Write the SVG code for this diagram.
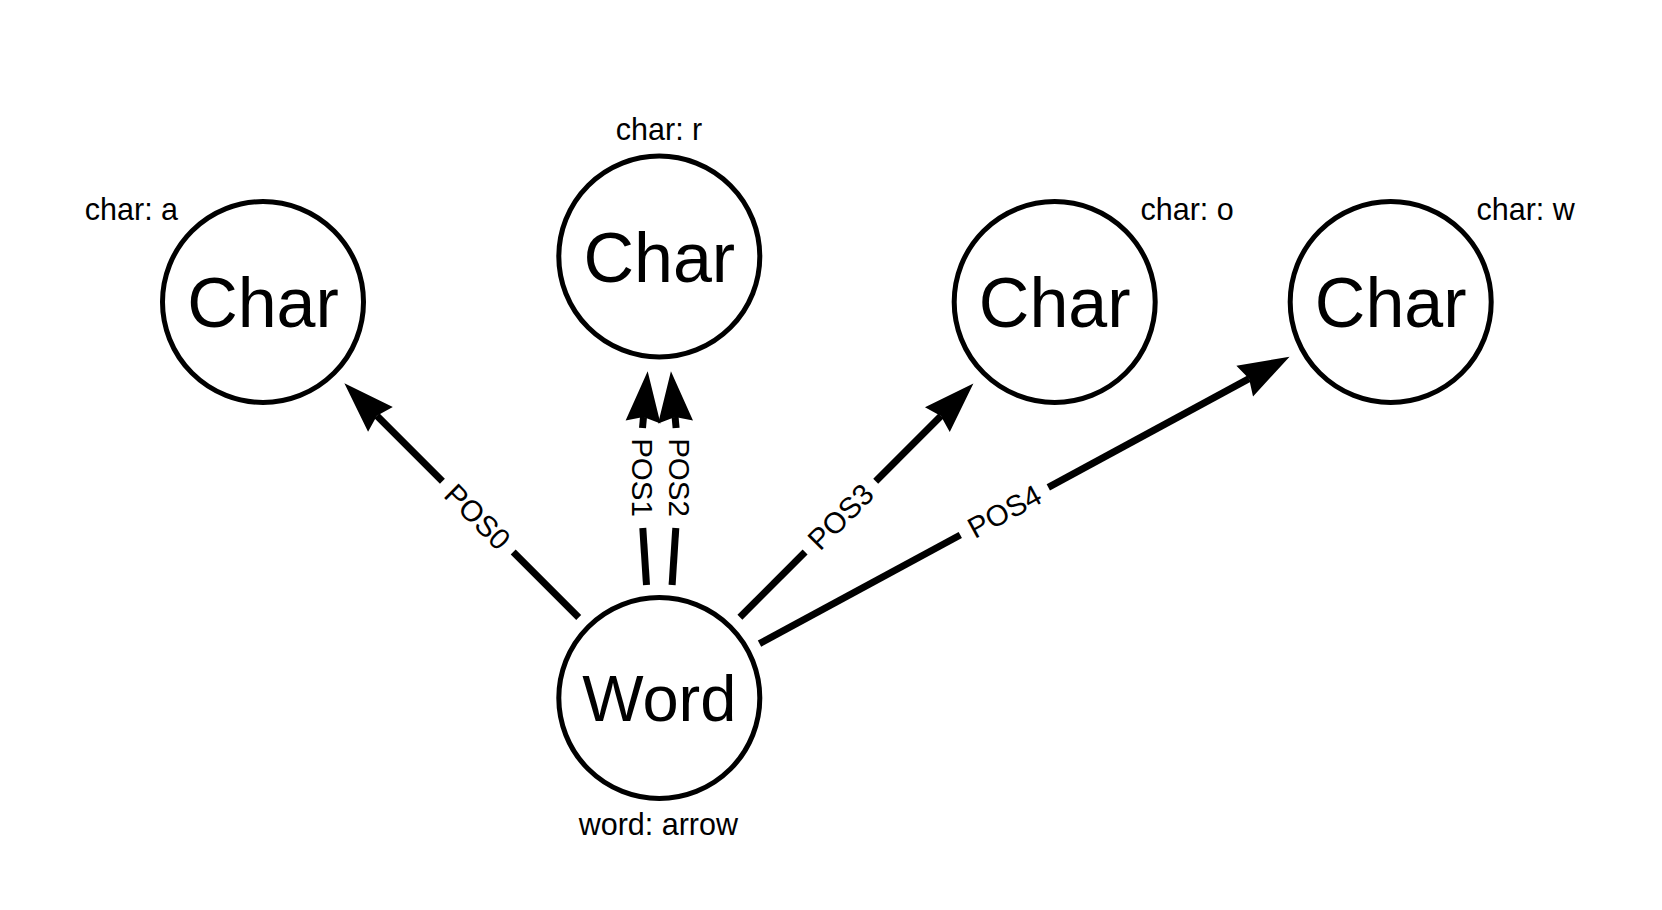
<svg xmlns="http://www.w3.org/2000/svg" width="1662" height="910" viewBox="0 0 1662 910">
  <style>
    .node { fill: #ffffff; stroke: #000000; stroke-width: 5; }
    .cap { font-family: "Liberation Sans", Arial, Helvetica, sans-serif; font-size: 70px; fill: #000000; text-anchor: middle; }
    .prop { font-family: "Liberation Sans", Arial, Helvetica, sans-serif; font-size: 30.5px; fill: #000000; }
    .edge { fill: none; stroke: #000000; stroke-width: 7; stroke-linecap: butt; }
    .elabel { font-family: "Liberation Sans", Arial, Helvetica, sans-serif; font-size: 29.5px; fill: #000000; text-anchor: middle; }
  </style>
  <defs>
    <marker id="arrow" markerUnits="userSpaceOnUse" orient="auto" viewBox="-10 -20 60 40" markerWidth="60" markerHeight="40" refX="0" refY="0" overflow="visible">
      <path d="M 46,0 L -5,-17.5 L 0,0 L -5,17.5 Z" fill="#000000"/>
    </marker>
  </defs>
  <rect width="1662" height="910" fill="#ffffff"/>

  <g id="connectors">
    <g id="edge-pos0">
      <path class="edge" d="M 578.7,617.4 L 513.2,552.0"/>
      <path class="edge" d="M 442.4,481.3 L 376.9,415.8" marker-end="url(#arrow)"/>
      <text class="elabel" transform="translate(477.8,516.6) rotate(45)" x="0" y="10.5">POS0</text>
    </g>
    <g id="edge-pos1">
      <path class="edge" d="M 646.5,585 Q 644.5,556 642.8,528"/>
      <path class="edge" d="M 642.5,428 L 643.5,417" marker-end="url(#arrow)"/>
      <text class="elabel" transform="translate(642,477.5) rotate(90)" x="0" y="10.5">POS1</text>
    </g>
    <g id="edge-pos2">
      <path class="edge" d="M 672.1,585 Q 674.1,556 675.8,528"/>
      <path class="edge" d="M 676.1,428 L 675.1,417" marker-end="url(#arrow)"/>
      <text class="elabel" transform="translate(679,477.5) rotate(90)" x="0" y="10.5">POS2</text>
    </g>
    <g id="edge-pos3">
      <path class="edge" d="M 739.9,617.3 L 805.1,552.0"/>
      <path class="edge" d="M 875.7,481.3 L 940.9,416.0" marker-end="url(#arrow)"/>
      <text class="elabel" transform="translate(840.4,516.6) rotate(-45)" x="0" y="10.5">POS3</text>
    </g>
    <g id="edge-pos4">
      <path class="edge" d="M 759.5,643.7 L 960.3,535.0"/>
      <path class="edge" d="M 1048.3,487.4 L 1249.1,378.7" marker-end="url(#arrow)"/>
      <text class="elabel" transform="translate(1004.3,511.2) rotate(-28.43)" x="0" y="10.5">POS4</text>
    </g>
  </g>

  <g id="node-char-a">
    <circle class="node" cx="263" cy="302" r="100.5"/>
    <text class="cap" x="263" y="327">Char</text>
    <text class="prop" x="84.8" y="219.8">char: a</text>
  </g>
  <g id="node-char-r">
    <circle class="node" cx="659.3" cy="256.5" r="100.5"/>
    <text class="cap" x="659.3" y="281.5">Char</text>
    <text class="prop" x="615.8" y="140.3">char: r</text>
  </g>
  <g id="node-char-o">
    <circle class="node" cx="1054.7" cy="302" r="100.5"/>
    <text class="cap" x="1054.7" y="327">Char</text>
    <text class="prop" x="1140.5" y="219.8">char: o</text>
  </g>
  <g id="node-char-w">
    <circle class="node" cx="1390.7" cy="302" r="100.5"/>
    <text class="cap" x="1390.7" y="327">Char</text>
    <text class="prop" x="1476.5" y="219.8">char: w</text>
  </g>
  <g id="node-word">
    <circle class="node" cx="659.3" cy="698" r="100.5"/>
    <text class="cap" x="659.3" y="721.3" style="font-size:65px">Word</text>
    <text class="prop" x="578.7" y="835">word: arrow</text>
  </g>
</svg>
